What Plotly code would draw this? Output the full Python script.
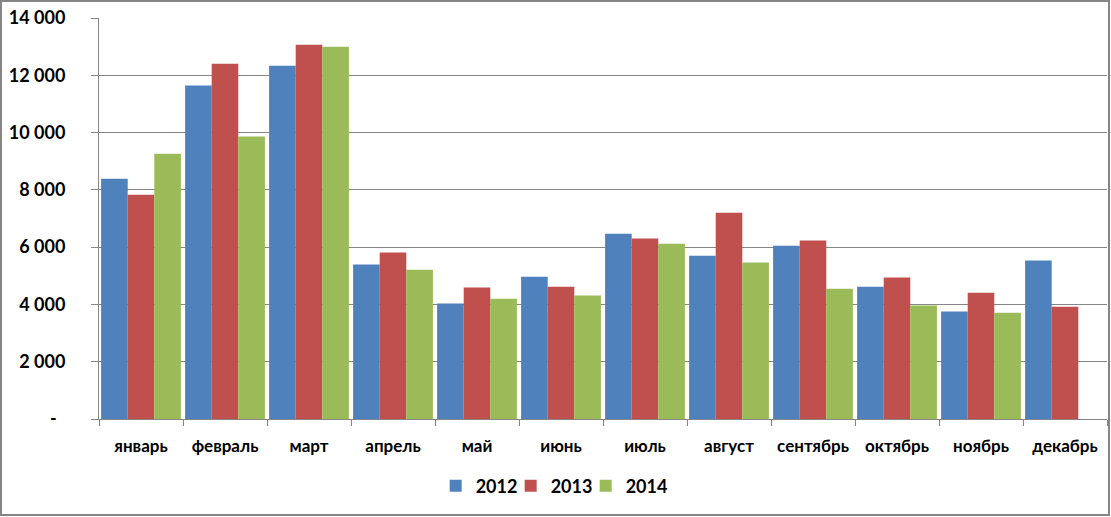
import plotly.graph_objects as go

months = ["январь", "февраль", "март", "апрель", "май", "июнь", "июль",
          "август", "сентябрь", "октябрь", "ноябрь", "декабрь"]
y2012 = [8390, 11640, 12330, 5390, 4030, 4970, 6470, 5700, 6050, 4620, 3750, 5530]
y2013 = [7830, 12400, 13070, 5810, 4590, 4620, 6300, 7200, 6230, 4940, 4410, 3920]
y2014 = [9260, 9860, 13000, 5210, 4200, 4310, 6120, 5460, 4550, 3960, 3710, None]
tick_vals = [0, 2000, 4000, 6000, 8000, 10000, 12000, 14000]
tick_text = ["-\u00a0\u00a0", "2 000", "4 000", "6 000", "8 000", "10 000", "12 000", "14 000"]

colors = {"2012": "#4F81BD", "2013": "#C0504D", "2014": "#9BBB59"}
FONT = "Lato, 'Open Sans', sans-serif"

fig = go.Figure()
for name, vals in [("2012", y2012), ("2013", y2013), ("2014", y2014)]:
    fig.add_trace(go.Bar(x=months, y=vals, name=name,
                         marker=dict(color=colors[name], line=dict(width=0))))
# invisible spacer legend entry (scatter, so it does not take a bar slot)
fig.add_trace(go.Scatter(x=months, y=[None] * len(months), name=" ", mode="markers",
                         hoverinfo="skip",
                         marker=dict(color="rgba(0,0,0,0)", size=1)))

grid = "#868686"
fig.update_layout(
    width=1111, height=517,
    margin=dict(l=99, r=4, t=18, b=98, autoexpand=False),
    paper_bgcolor="white", plot_bgcolor="white",
    barmode="group", bargap=0.05, bargroupgap=0,
    font=dict(family=FONT, size=18, color="black", weight=700),
    showlegend=True,
    legend=dict(orientation="h", x=0.334, xanchor="left", y=(419 - 486) / 401, yanchor="middle",
                font=dict(family=FONT, size=18, color="black", weight=700),
                entrywidth=30, entrywidthmode="pixels", itemwidth=30,
                bgcolor="rgba(0,0,0,0)"),
    xaxis=dict(range=[-0.5, len(months) - 0.5],
               showline=True, linecolor=grid, linewidth=1,
               ticks="outside", tickson="boundaries", ticklen=6, tickcolor=grid,
               ticklabelstandoff=12, tickangle=0,
               showgrid=False, tickfont=dict(family=FONT, size=17, weight=700)),
    yaxis=dict(range=[0, 14000], tickvals=tick_vals, ticktext=tick_text,
               showline=True, linecolor=grid, linewidth=1,
               ticks="outside", ticklen=7, tickcolor=grid,
               showgrid=True, gridcolor=grid, gridwidth=1, zeroline=False,
               ticklabelstandoff=22,
               tickfont=dict(family=FONT, size=18, weight=700)),
    shapes=[dict(type="rect", xref="paper", yref="paper",
                 x0=(1 - 99) / 1008, x1=(1109 - 99) / 1008,
                 y0=(419 - 515) / 401, y1=(419 - 1) / 401,
                 line=dict(color=grid, width=2), fillcolor="rgba(0,0,0,0)",
                 layer="above")],
)

fig.write_html("out.html")
